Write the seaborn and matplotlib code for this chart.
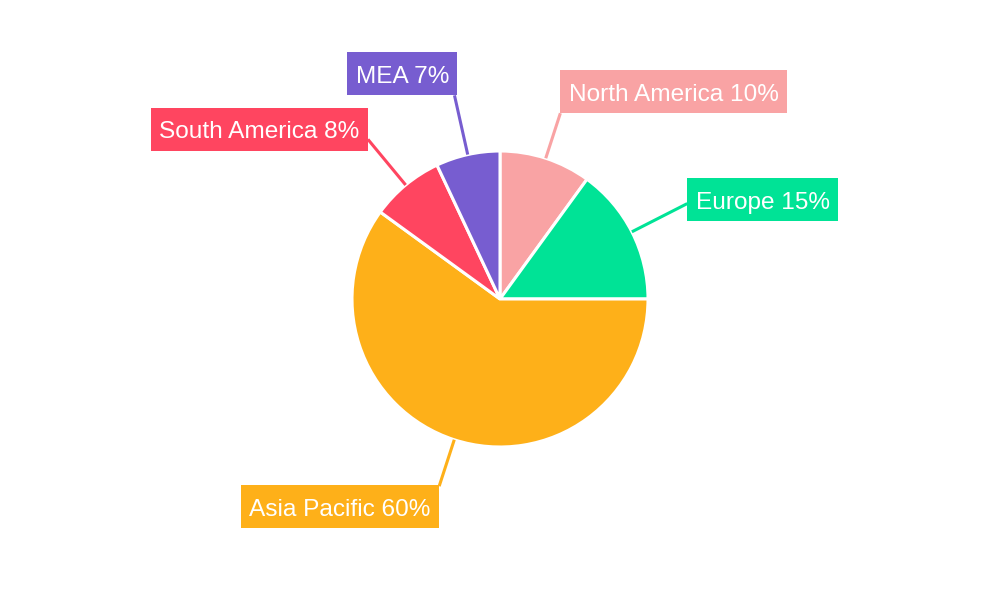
import numpy as np
import matplotlib
matplotlib.use("Agg")
import matplotlib.pyplot as plt
from matplotlib.path import Path
import seaborn as sns

# data
regions = ["North America", "Europe", "Asia Pacific", "South America", "MEA"]
shares = [10, 15, 60, 8, 7]
colors = ["#F9A3A4", "#00E396", "#FEB019", "#FF4560", "#775DD0"]

# label box padding (px); SHIFT raises the box so caps sit in its middle
PADX, PADY, SHIFT = 8.5, 10.5, 3
layout = {
    "North America": (1.32, "left", "bottom", (PADX, PADY - SHIFT)),
    "Europe": (1.42, "left", "center", (PADX, 4 - SHIFT)),
    "Asia Pacific": (1.33, "right", "top", (-PADX, -PADY - SHIFT + 1)),
    "South America": (1.40, "right", "center", (-PADX, 10 - SHIFT)),
    "MEA": (1.41, "right", "bottom", (-PADX + 3, PADY - SHIFT)),
}


def label_box(x0, y0, width, height, mutation_size):
    # plain rectangle with wider vertical padding than horizontal
    x0, x1 = x0 - PADX, x0 + width + PADX
    y0, y1 = y0 - PADY + SHIFT, y0 + height + PADY + SHIFT
    return Path([(x0, y0), (x1, y0), (x1, y1), (x0, y1), (x0, y0)], closed=True)


sns.set_theme(style="white")
plt.rcParams["font.family"] = ["Liberation Sans", "DejaVu Sans"]

fig = plt.figure(figsize=(10, 6), dpi=100)
ax = fig.add_axes([0, 0, 1, 1])
R = 148

wedges, _ = ax.pie(shares, colors=colors, startangle=90, counterclock=False,
                   radius=R, center=(0, 0),
                   wedgeprops=dict(edgecolor="white", linewidth=2.2))

for w, name, val, col in zip(wedges, regions, shares, colors):
    ang = np.deg2rad((w.theta1 + w.theta2) / 2)
    reach, ha, va, off = layout[name]
    x0, y0 = R * np.cos(ang), R * np.sin(ang)
    x1, y1 = reach * x0, reach * y0
    ax.plot([x0, x1], [y0, y1], color=col, lw=2.2, solid_capstyle="butt", zorder=1)
    ax.annotate(f"{name} {val}%", xy=(x1, y1), xytext=off, textcoords="offset pixels",
                ha=ha, va=va, fontsize=17.6, color="white",
                bbox=dict(boxstyle=label_box, fc=col, ec="none"), zorder=3)

ax.set_xlim(-500, 500)
ax.set_ylim(-301, 299)
ax.set_aspect("equal")
ax.axis("off")

fig.savefig("out.png", dpi=100, facecolor="white")
